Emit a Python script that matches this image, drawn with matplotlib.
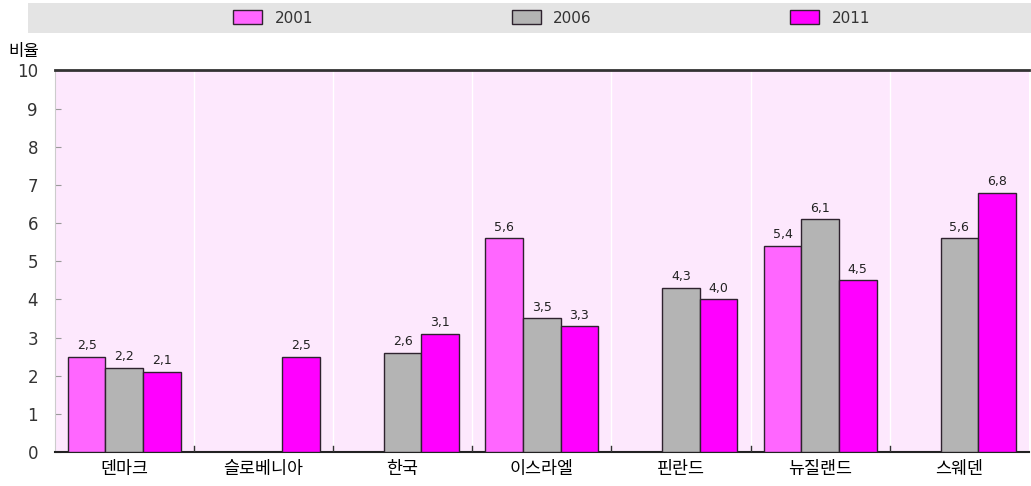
import numpy as np
import matplotlib.pyplot as plt
from matplotlib.patches import Rectangle

plt.rcParams['font.family'] = ['Noto Sans CJK KR', 'DejaVu Sans']

# data
countries = ['덴마크', '슬로베니아', '한국', '이스라엘', '핀란드', '뉴질랜드', '스웨덴']
years = ['2001', '2006', '2011']
v2001 = [2.5, np.nan, np.nan, 5.6, np.nan, 5.4, np.nan]
v2006 = [2.2, np.nan, 2.6, 3.5, 4.3, 6.1, 5.6]
v2011 = [2.1, 2.5, 3.1, 3.3, 4.0, 4.5, 6.8]
series = [v2001, v2006, v2011]
colors = ['#ff66ff', '#b4b4b4', '#ff00ff']

fig = plt.figure(figsize=(10.31, 4.86), dpi=100)
ax = fig.add_axes([0.053, 0.07, 0.945, 0.785])
ax.set_facecolor('#fde8fd')

x = np.arange(len(countries))
w = 0.27
for i, (vals, c) in enumerate(zip(series, colors)):
    pos = x + (i - 1) * w
    ax.bar(pos, vals, width=w, color=c, edgecolor='#2e222e',
           linewidth=1.0, label=years[i], zorder=3)
    for p, v in zip(pos, vals):
        if not np.isnan(v):
            ax.text(p, v + 0.12, f'{v:.1f}'.replace('.', ','), ha='center',
                    va='bottom', fontsize=9, color='#222222',
                    family='DejaVu Sans')

ax.set_xlim(-0.5, len(countries) - 0.5)
ax.set_ylim(0, 10)
ax.set_yticks(range(0, 11))
ax.tick_params(axis='y', direction='in', length=4, color='#999999',
               labelsize=12, pad=12, labelcolor='#333333')
for lab in ax.get_yticklabels():
    lab.set_family('DejaVu Sans')
ax.set_xticks(x)
ax.set_xticklabels(countries, fontsize=12.5)
ax.tick_params(axis='x', length=0, pad=6)

# category separators
for b in np.arange(0.5, len(countries) - 0.5):
    ax.axvline(b, color='white', linewidth=1, zorder=1)
    ax.plot([b, b], [0, 0.15], color='#333333', linewidth=1, zorder=4)

ax.spines['top'].set_color('#333333')
ax.spines['top'].set_linewidth(2)
ax.spines['bottom'].set_color('#222222')
ax.spines['bottom'].set_linewidth(1.5)
ax.spines['left'].set_color('#cccccc')
ax.spines['right'].set_visible(False)

fig.text(0.008, 0.895, '비율', fontsize=12, ha='left', va='center')

# legend band
fig.patches.append(Rectangle((0.027, 0.932), 0.973, 0.062, transform=fig.transFigure,
                             facecolor='#e4e4e4', edgecolor='none', zorder=0))
leg = fig.legend(loc='center', bbox_to_anchor=(0.535, 0.963), ncol=3, frameon=False,
                 columnspacing=13, handlelength=1.9, handleheight=1.0,
                 prop={'family': 'DejaVu Sans', 'size': 11})
for t in leg.get_texts():
    t.set_color('#333333')

fig.savefig('out.png', dpi=100)
